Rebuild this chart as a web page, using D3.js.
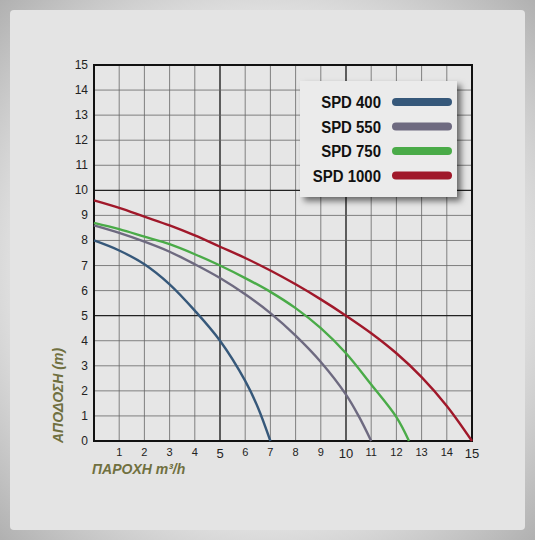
<!DOCTYPE html><html><head><meta charset="utf-8"><script src="https://cdn.jsdelivr.net/npm/d3@7"></script>
<style>body{margin:0;background:#fff}</style></head><body><svg id="c" width="535" height="540"></svg><script>
const xTicks=[1,2,3,4,5,6,7,8,9,10,11,12,13,14,15];
const yTicks=[0,1,2,3,4,5,6,7,8,9,10,11,12,13,14,15];
const names=["SPD 400","SPD 550","SPD 750","SPD 1000"];
const colors=["#36587a","#6e6a80","#4aab48","#a0182a"];
const spd400=[[0,8],[1,7.6],[2,7.05],[3,6.25],[4,5.2],[5,4],[6,2.4],[6.5,1.35],[7,0]];
const spd550=[[0,8.6],[1,8.3],[2,7.95],[3,7.55],[4,7.05],[5,6.5],[6,5.85],[7,5.1],[8,4.2],[9,3.15],[10,1.85],[10.5,1],[11,0]];
const spd750=[[0,8.7],[1,8.45],[2,8.15],[3,7.85],[4,7.45],[5,7],[6,6.5],[7,5.95],[8,5.3],[9,4.5],[10,3.5],[11,2.25],[12,0.95],[12.5,0]];
const spd1000=[[0,9.6],[1,9.3],[2,8.95],[3,8.6],[4,8.2],[5,7.75],[6,7.3],[7,6.8],[8,6.25],[9,5.65],[10,5],[11,4.3],[12,3.5],[13,2.55],[14,1.4],[15,0]];
const series=[spd400,spd550,spd750,spd1000];
const svg=d3.select("#c");
const defs=svg.append("defs");
const rg=defs.append("radialGradient").attr("id","bg").attr("r","0.75");
rg.append("stop").attr("offset","0.6").attr("stop-color","#e4e4e4");
rg.append("stop").attr("offset","1").attr("stop-color","#a8a8a8");
svg.append("rect").attr("width",535).attr("height",540).attr("fill","url(#bg)");
svg.append("rect").attr("x",10).attr("y",10).attr("width",515).attr("height",520).attr("fill","#e4e4e4").attr("rx",4);
const f=defs.append("filter").attr("id","sh").attr("x","-20%").attr("y","-20%").attr("width","150%").attr("height","150%");
f.append("feDropShadow").attr("dx",4).attr("dy",4).attr("stdDeviation",3).attr("flood-opacity",0.55);
const x=d3.scaleLinear().domain([0,15]).range([94,472]);
const y=d3.scaleLinear().domain([0,15]).range([441,65]);
const g=svg.append("g");
g.append("rect").attr("x",94).attr("y",65).attr("width",378).attr("height",376).attr("fill","#e6e6e6");
g.selectAll(".vx").data(xTicks).join("line").attr("x1",d=>x(d)).attr("x2",d=>x(d)).attr("y1",65).attr("y2",441)
 .attr("stroke",d=>d%5==0?"#222":"#666").attr("stroke-width",d=>d%5==0?1.4:0.8);
g.selectAll(".hy").data(yTicks).join("line").attr("y1",d=>y(d)).attr("y2",d=>y(d)).attr("x1",94).attr("x2",472)
 .attr("stroke",d=>d%5==0?"#222":"#666").attr("stroke-width",d=>d%5==0?1.4:0.8);
g.append("rect").attr("x",94).attr("y",65).attr("width",378).attr("height",376).attr("fill","none").attr("stroke","#111").attr("stroke-width",2);
g.selectAll(".yl").data(yTicks).join("text").attr("x",88).attr("y",d=>y(d)+4).attr("text-anchor","end")
 .attr("font-family","Liberation Sans Narrow, Liberation Sans").attr("font-size",12).attr("fill","#222").text(d=>d);
g.selectAll(".xl").data(xTicks).join("text").attr("x",d=>x(d)).attr("y",d=>d%5==0?458:456).attr("text-anchor","middle")
 .attr("font-family","Liberation Sans Narrow, Liberation Sans").attr("font-size",d=>d%5==0?13:11).attr("fill","#222").text(d=>d);
const line=d3.line().x(d=>x(d[0])).y(d=>y(d[1])).curve(d3.curveCatmullRom.alpha(0.5));
series.forEach((s,i)=>g.append("path").attr("d",line(s)).attr("fill","none").attr("stroke",colors[i]).attr("stroke-width",2.4));
svg.append("text").attr("x",92).attr("y",474).attr("font-family","Liberation Sans").attr("font-style","italic").attr("font-weight","bold")
 .attr("font-size",14).attr("fill","#707040").text("ΠΑΡΟΧΗ m³/h");
svg.append("text").attr("transform","translate(63,443) rotate(-90)").attr("font-family","Liberation Sans").attr("font-style","italic").attr("font-weight","bold")
 .attr("font-size",14).attr("fill","#707040").text("ΑΠΟΔΟΣΗ (m)");
const lg=svg.append("g");
lg.append("rect").attr("x",300).attr("y",81).attr("width",157).attr("height",116).attr("fill","#ebebeb").attr("filter","url(#sh)");
names.forEach((n,i)=>{
 const yy=102+i*24.5;
 lg.append("text").attr("transform",`translate(381,${yy+6}) scale(0.88,1)`).attr("text-anchor","end").attr("font-family","Liberation Sans")
  .attr("font-weight","bold").attr("font-size",17).attr("fill","#111").text(n);
 lg.append("line").attr("x1",396).attr("x2",448).attr("y1",yy).attr("y2",yy).attr("stroke",colors[i]).attr("stroke-width",8).attr("stroke-linecap","round");
});
</script></body></html>
